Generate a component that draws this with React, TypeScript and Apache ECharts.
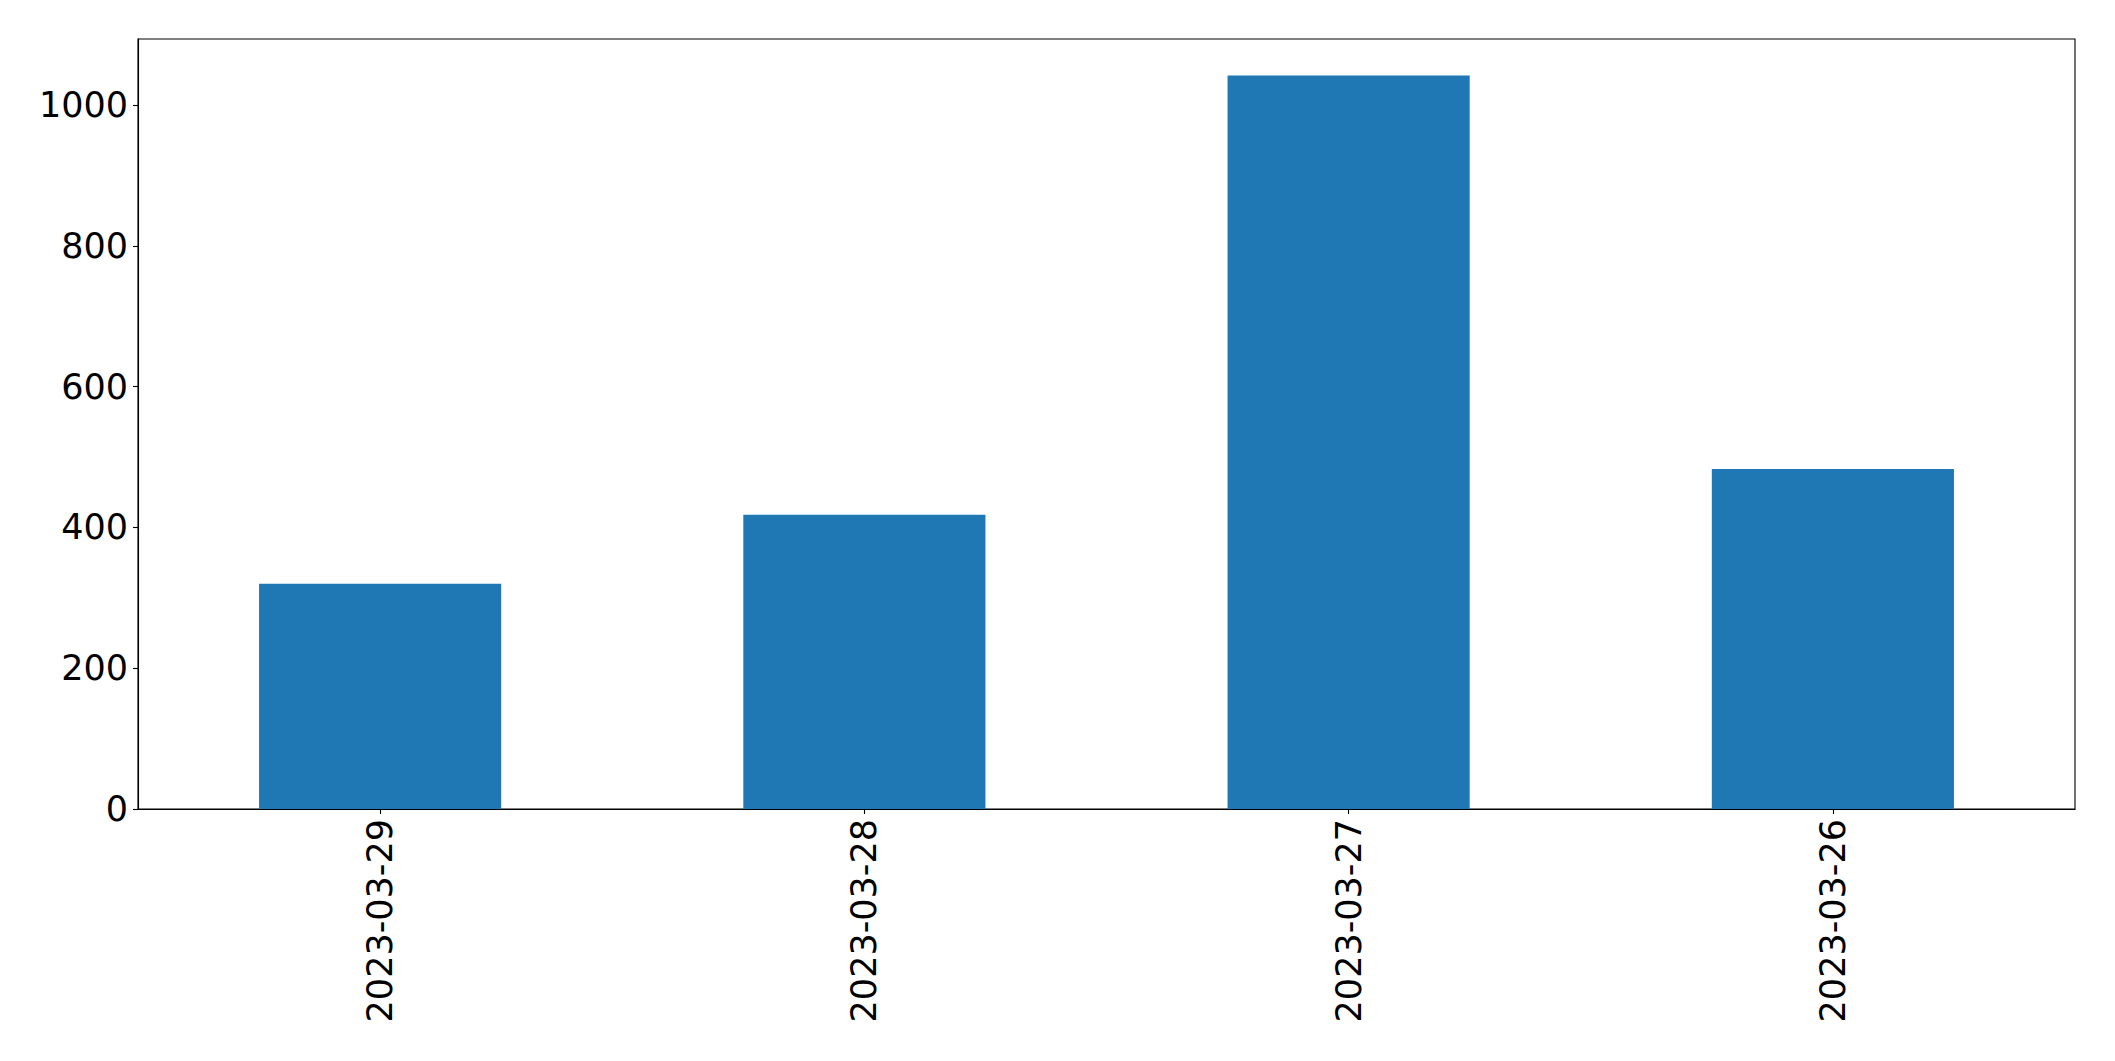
import React, { useEffect, useRef } from "react";
import * as echarts from "echarts";

const categories = ["2023-03-29", "2023-03-28", "2023-03-27", "2023-03-26"];
const values = [320, 418, 1042, 483];
const yTicks = [0, 200, 400, 600, 800, 1000];
const yMax = 1094;
const yInterval = 200;

export default function App() {
  const ref = useRef<HTMLDivElement>(null);
  useEffect(() => {
    document.body.style.margin = "0";
    if (!ref.current) return;
    const chart = echarts.init(ref.current, null, { renderer: "svg" });
    const font = "DejaVu Sans";
    chart.setOption({
      animation: false,
      backgroundColor: "#ffffff",
      grid: {
        left: 138,
        right: 40,
        top: 39,
        bottom: 1061 - 809,
        show: true,
        borderColor: "#000000",
        borderWidth: 1.1,
        backgroundColor: "transparent",
      },
      xAxis: {
        type: "category",
        data: categories,
        boundaryGap: true,
        axisLine: { show: true, lineStyle: { color: "#000000", width: 1.1 } },
        axisTick: { show: true, alignWithLabel: true, length: 5, lineStyle: { color: "#000000", width: 1.1 } },
        axisLabel: {
          rotate: 90,
          margin: 10,
          fontFamily: font,
          fontSize: 35,
          color: "#000000",
        },
        splitLine: { show: false },
      },
      yAxis: {
        type: "value",
        min: 0,
        max: yMax,
        interval: yInterval,
        axisLine: { show: true, lineStyle: { color: "#000000", width: 1.1 } },
        axisTick: {
          show: true,
          length: 5,
          customValues: yTicks,
          lineStyle: { color: "#000000", width: 1.1 },
        },
        axisLabel: {
          margin: 10,
          fontFamily: font,
          fontSize: 35,
          color: "#000000",
          customValues: yTicks,
          formatter: (v: number) => (v % yInterval === 0 ? String(v) : ""),
        },
        splitLine: { show: false },
      },
      series: [
        {
          type: "bar",
          data: values,
          barCategoryGap: "50%",
          itemStyle: { color: "#1f77b4" },
        },
      ],
    });
    return () => chart.dispose();
  }, []);
  return <div ref={ref} style={{ width: 2115, height: 1061 }} />;
}
